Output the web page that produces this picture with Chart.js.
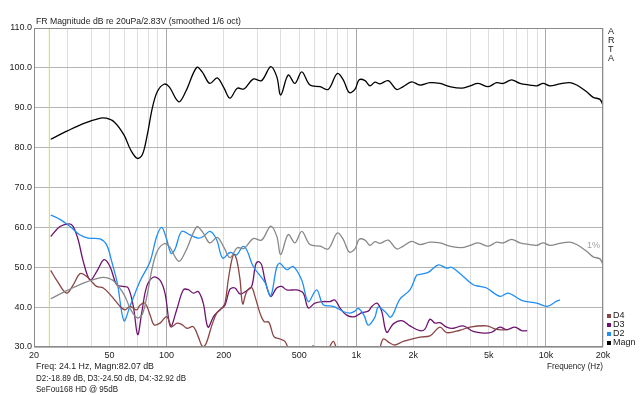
<!DOCTYPE html>
<html><head><meta charset="utf-8">
<script src="https://cdn.jsdelivr.net/npm/chart.js@4/dist/chart.umd.min.js"></script>
<style>html,body{margin:0;padding:0;background:#fff;}</style>
</head><body>
<canvas id="c" width="640" height="395"></canvas>
<script>
const magnFreq = [24.5,30.0,36.7,44.9,47.8,52.8,59.6,64.7,70.1,74.5,79.1,84.1,89.3,96.9,103,116,126,144,154,169,185,201,216,236,256,286,317,354,381,400,438,475,516,570,644,712,794,854,919,984,1037,1112,1181,1255,1334,1475,1633,1769,1959,2166,2447,2762,3120,3596,3977,4397,4966,5496,5956,6596,7294,8236,8934,9678,10498,11852,13382,14518,16392,17758,19264,20000];
const magnDb = [82.1,84.2,86.1,87.4,87.4,86.5,83.2,79.4,77.3,78.2,83.2,89.9,94.0,95.9,95.3,91.5,94.0,100.1,99.0,96.1,97.5,94.9,92.4,94.9,94.7,97.2,96.8,100.3,97.8,93.2,98.2,96.1,99.0,95.7,95.3,94.6,98.6,97.0,93.8,94.6,97.0,96.8,95.5,96.4,96.0,96.8,94.6,95.3,96.5,95.7,96.3,96.1,95.3,94.9,95.5,96.1,95.3,96.3,96.1,97.0,96.1,95.7,95.5,96.1,95.5,96.0,96.3,95.7,94.0,92.6,92.1,90.6];
const onePctDb = [42.1,44.2,46.1,47.4,47.4,46.5,43.2,39.4,37.3,38.2,43.2,49.9,54.0,55.9,55.3,51.5,54.0,60.1,59.0,56.1,57.5,54.9,52.4,54.9,54.7,57.2,56.8,60.3,57.8,53.2,58.2,56.1,59.0,55.7,55.3,54.6,58.6,57.0,53.8,54.6,57.0,56.8,55.5,56.4,56.0,56.8,54.6,55.3,56.5,55.7,56.3,56.1,55.3,54.9,55.5,56.1,55.3,56.3,56.1,57.0,56.1,55.7,55.5,56.1,55.5,56.0,56.3,55.7,54.0,52.6,52.1,50.6];
const d2Freq = [24.5,27.4,31.0,35.0,38.7,44.6,48.3,51.4,55.0,59.6,64.1,72.4,81.8,88.7,94.3,100.1,105.5,110.8,120.1,132.9,146.9,156.1,169.4,183.7,197.6,215.9,234.2,252.0,265.5,286.4,330.2,353.8,380.6,396.2,429.6,465.5,515.6,558.6,618.4,670,756.6,854,926.6,984,1025,1098,1157,1255,1306,1417,1524,1700,1919,2082,2166,2396,2706,2996,3184,3666,4138,4488,4868,5722,6330,7448,8934,10158,11386,11852];
const d2Db = [63.1,62.0,60.2,58.1,57.3,57.1,55.6,51.4,46.0,36.6,40.2,46.5,51.4,57.7,60.0,57.0,53.5,54.5,59.0,58.1,57.3,57.7,59.0,56.9,52.3,53.7,53.1,55.2,54.2,50.2,46.2,42.8,50.0,51.0,49.4,50.2,46.8,41.4,44.3,40.6,40.2,38.9,38.5,39.0,39.7,38.0,35.5,37.5,40.0,38.9,37.5,42.0,44.3,48.0,48.2,48.7,50.6,49.8,50.0,47.7,45.6,45.2,44.8,42.7,43.5,41.7,41.0,40.2,41.5,41.8];
const d3Freq = [24.5,27.4,30.7,32.2,34.2,36.4,39.5,42.8,46.8,50.3,54.6,59.1,62.8,66.8,70.4,73.9,78.6,85.1,92.3,98.1,104.9,113.0,122.5,130.2,138.3,146.9,156.1,165.3,177.8,191.2,203.2,215.9,229.4,243.8,262.2,281,294.2,304.4,317.2,330.2,353.8,380.6,404.4,429.6,485,525.6,558.6,605.8,670,727,772,820.6,890,984,1068,1157,1210,1286,1361,1447,1568,1736,1919,2166,2302,2447,2600,2762,2996,3246,3666,4138,4672,5174,5722,6208,6866,7448,7970];
const d3Db = [57.7,60.2,60.9,60.2,56.9,51.4,46.8,48.9,51.9,50.2,45.6,45.2,44.8,40.2,33.1,38.5,45.2,47.5,46.8,43.5,35.1,39.3,44.3,44.4,43.5,43.9,41.0,35.0,37.8,39.3,40.5,44.5,44.8,43.3,44.0,45.2,50.5,51.4,50.6,46.8,42.7,44.8,45.2,44.3,44.3,43.5,39.8,41.0,41.4,41.4,41.8,39.8,38.0,37.6,38.6,39.0,40.2,41.0,39.0,33.7,35.8,36.6,35.3,34.1,34.5,37.0,36.0,36.1,35.0,34.7,35.3,33.9,33.5,33.7,35.0,34.3,35.0,34.1,34.1];
const d4Freq = [24.5,26.3,29.7,32.2,35.0,37.9,40.3,42.8,46.4,51.4,56.8,60.4,64.1,69.6,72.4,76.9,81.8,85.8,92.3,100.1,106.4,113.5,120.6,128.1,138.3,146.9,154.6,161.4,172.9,183.7,195.9,203.2,211.4,219.9,226.6,234.2,243.8,252.0,264.4,281,292.4,310.8,326.3,346.6,368.2,396.2,420.8,447.2,505,556.6,591.4,628.2,692.4,756.6,801,926.6,1112,1306,1388,1505,1600,1769,2166,2447,2762,2996,3522,3977,4868,5496,6080];
const d4Db = [49.2,46.8,43.5,45.6,48.4,47.7,46.4,45.2,44.8,42.7,40.2,39.3,40.2,39.3,40.5,41.0,38.1,35.6,36.0,37.6,35.1,36.0,35.6,34.7,35.1,32.6,30.1,30.8,35.3,38.5,39.8,41.0,46.8,51.5,53.2,51.9,47.0,40.8,43.9,44.9,42.7,38.5,36.4,36.2,32.6,32.0,31.4,29.0,27.5,28.5,30.3,29.0,28.5,31.4,29.0,27.5,27.5,29.0,32.0,31.0,30.5,31.4,32.5,32.8,35.0,33.6,34.2,35.0,35.3,34.4,34.3];
const xTickValues = [20,30,40,50,60,70,80,90,100,200,300,400,500,600,700,800,900,1000,2000,3000,4000,5000,6000,7000,8000,9000,10000,20000];
const xTickLabels = {20:'20',50:'50',100:'100',200:'200',500:'500',1000:'1k',2000:'2k',5000:'5k',10000:'10k',20000:'20k'};
const yTickValues = [30,40,50,60,70,80,90,100,110];
const cursorFreq = 24.1;
const legendItems = [['D4','#8a4545'],['D3','#6e1470'],['D2','#1f8ef5'],['Magn','#000000']];
const titleText = 'FR Magnitude dB re 20uPa/2.83V (smoothed 1/6 oct)';
const infoLines = ['Freq: 24.1 Hz, Magn:82.07 dB','D2:-18.89 dB, D3:-24.50 dB, D4:-32.92 dB','SeFou168 HD @ 95dB'];

const FONT = '"Liberation Sans", Arial, sans-serif';
const pts = (f, d) => f.map((v, i) => ({x: v, y: d[i]}));
const lineDs = (label, data, color, w) => ({label, data, borderColor: color, borderWidth: w, pointRadius: 0, fill: false, tension: 0.35});

const textPlugin = {
  id: 'texts',
  afterDatasetsDraw(chart) {
    const c = chart.ctx, a = chart.chartArea, xs = chart.scales.x, ys = chart.scales.y;
    c.save();
    c.strokeStyle = '#8a8a8a'; c.lineWidth = 1;
    c.strokeRect(a.left + 0.5, a.top + 0.5, a.right - a.left - 1, a.bottom - a.top - 1);
    c.fillStyle = '#222';
    c.font = '9.3px ' + FONT;
    c.textBaseline = 'alphabetic'; c.textAlign = 'left';
    c.fillText(titleText, 36, 24, 205);
    c.font = '9px ' + FONT;
    c.textBaseline = 'middle';
    ['A','R','T','A'].forEach((ch, i) => c.fillText(ch, 608, 32 + i * 9));
    legendItems.forEach((it, i) => {
      const y = 316 + i * 9;
      c.fillStyle = it[1]; c.fillRect(607, y - 2, 4, 4);
      c.fillStyle = '#222'; c.fillText(it[0], 613, y);
    });
    c.textAlign = 'right';
    c.fillText('Frequency (Hz)', 603, 367, 56);
    c.textAlign = 'left';
    const widths = [118, 150, 82];
    infoLines.forEach((t, i) => c.fillText(t, 36, 367 + i * 11.5, widths[i]));
    c.fillStyle = '#a0a0a0'; c.textAlign = 'center';
    c.fillText('1%', xs.getPixelForValue(17800), ys.getPixelForValue(55.4));
    c.restore();
  }
};

new Chart(document.getElementById('c'), {
  type: 'line',
  data: {
    datasets: [
      {label: 'cursor', data: [{x: cursorFreq, y: 30}, {x: cursorFreq, y: 110}], borderColor: '#dcdc38', borderWidth: 1, pointRadius: 0},
      lineDs('1%', pts(magnFreq, onePctDb), '#888888', 1.3),
      lineDs('D4', pts(d4Freq, d4Db), '#8a4545', 1.3),
      lineDs('D2', pts(d2Freq, d2Db), '#1f8ef5', 1.3),
      lineDs('D3', pts(d3Freq, d3Db), '#6e1470', 1.3),
      lineDs('Magn', pts(magnFreq, magnDb), '#000000', 1.3)
    ]
  },
  options: {
    responsive: false, animation: false, devicePixelRatio: 1,
    layout: {padding: {top: 28, right: 37, left: 0, bottom: 0}},
    plugins: {legend: {display: false}, tooltip: {enabled: false}, title: {display: false}},
    scales: {
      x: {
        type: 'logarithmic', min: 20, max: 20000,
        afterBuildTicks: s => { s.ticks = xTickValues.map(v => ({value: v})); },
        afterFit: s => { s.height = 48; },
        ticks: {autoSkip: false, maxRotation: 0, padding: 3, color: '#222', font: {size: 9, family: FONT},
          callback: (v) => xTickLabels[v] || ''},
        grid: {drawTicks: false, lineWidth: 1,
          color: ctx => { const v = ctx.tick && ctx.tick.value; return (v === 100 || v === 1000 || v === 10000) ? '#a8a8a8' : '#dedede'; }},
        border: {display: false}
      },
      y: {
        min: 30, max: 110,
        afterBuildTicks: s => { s.ticks = yTickValues.map(v => ({value: v})); },
        afterFit: s => { s.width = 34; },
        ticks: {padding: 2, color: '#222', font: {size: 9, family: FONT}, callback: v => Number(v).toFixed(1)},
        grid: {drawTicks: false, color: '#b4b4b4', lineWidth: 1},
        border: {display: false}
      }
    }
  },
  plugins: [textPlugin]
});
</script>
</body></html>
